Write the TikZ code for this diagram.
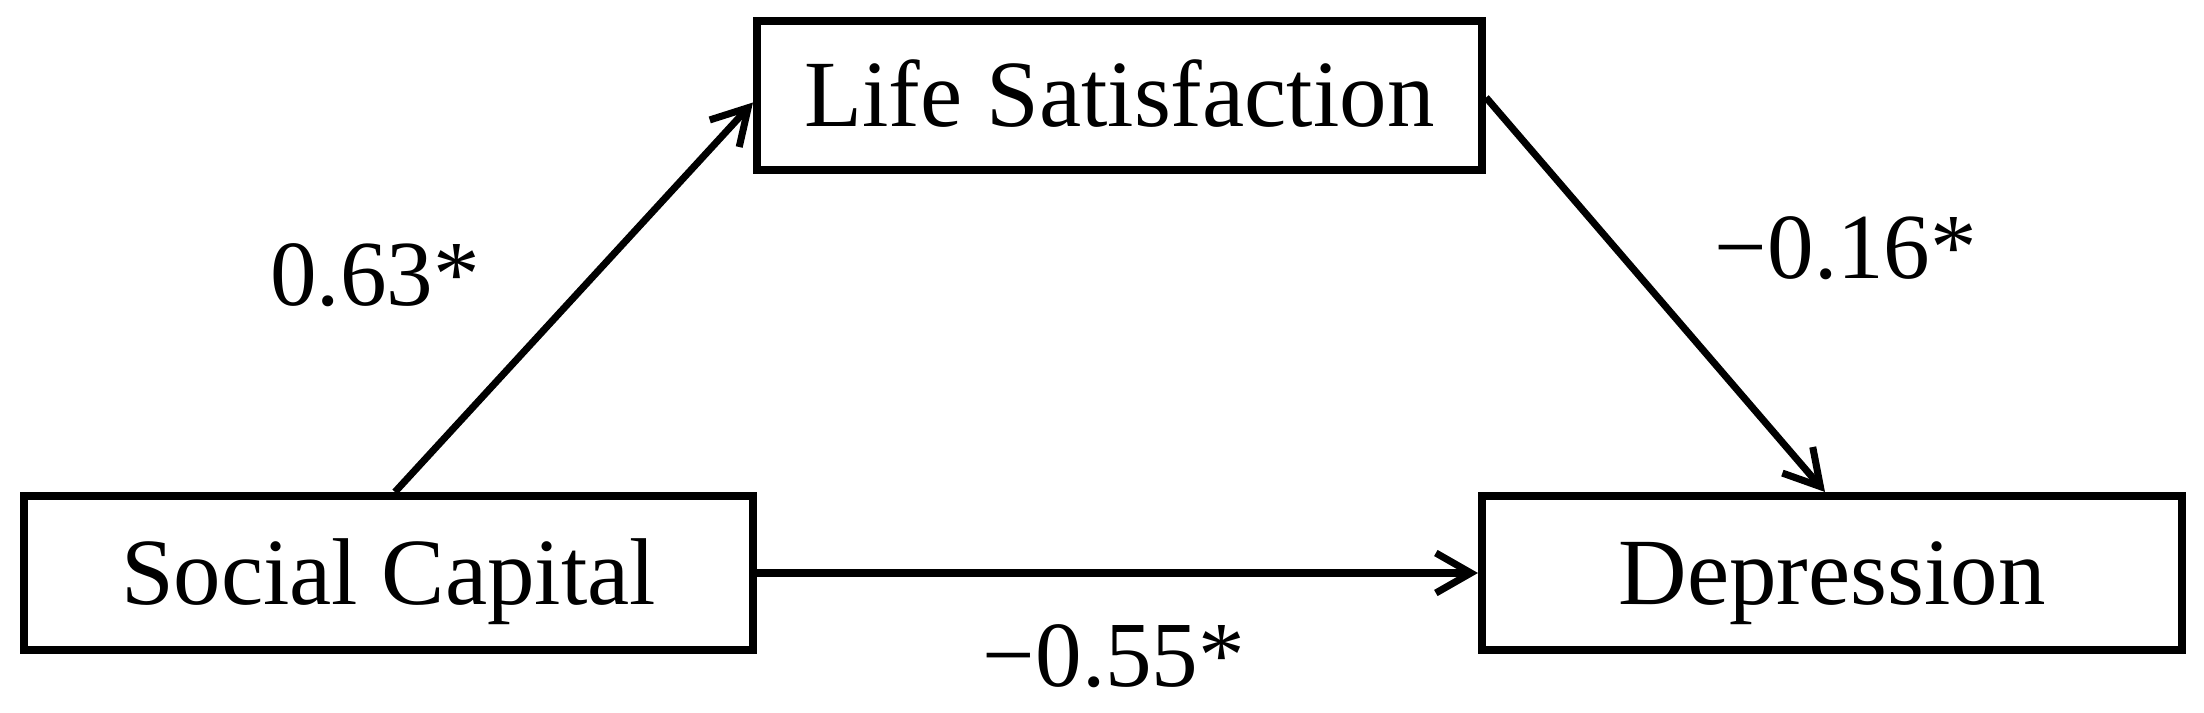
\documentclass[tikz,border=0pt]{standalone}
\usepackage{fontspec}
\setmainfont{Liberation Serif}
\usetikzlibrary{arrows.meta}
\begin{document}
\begin{tikzpicture}[
  box/.style={draw, line width=2.3pt, inner sep=0pt, font=\fontsize{27}{32}\selectfont, text height=17.9pt, text depth=0pt},
  conn/.style={line width=2pt, -{Straight Barb[length=3.5mm,width=4mm,line width=2pt]}},
  lbl/.style={font=\fontsize{26.5}{32}\selectfont, inner sep=0pt}
]
\useasboundingbox (0,0) rectangle (22.04,7.12);
\node[box, minimum width=7.25cm, minimum height=1.49cm] (ls) at (11.195,6.165) {Life Satisfaction};
\node[box, minimum width=7.29cm, minimum height=1.54cm] (sc) at (3.885,1.39) {Social Capital};
\node[box, minimum width=7.00cm, minimum height=1.54cm] (dep) at (18.32,1.39) {Depression};
\draw[conn] ([xshift=0.065cm]sc.north) -- ([yshift=-0.07cm]ls.west);
\draw[conn] ([yshift=-0.02cm]ls.east) -- ([xshift=-0.07cm]dep.north);
\draw[conn] (sc.east) -- (dep.west);
\node[lbl] (l1) at (3.75,4.37) {0.63*};
\node[lbl] (l2) at (18.46,4.635) {−0.16*};
\node[lbl] (l3) at (11.14,0.56) {−0.55*};
\end{tikzpicture}
\end{document}
